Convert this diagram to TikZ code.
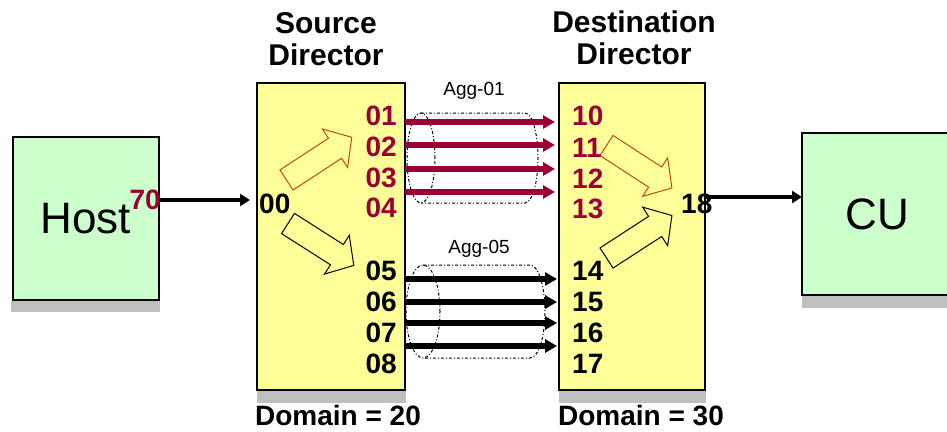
\documentclass[tikz,border=0pt]{standalone}
\usepackage{fontspec}
\setmainfont{Liberation Sans}
\usetikzlibrary{arrows.meta,calc}
\definecolor{portred}{RGB}{153,0,51}
\definecolor{boxyellow}{RGB}{255,255,153}
\definecolor{boxgreen}{RGB}{204,255,204}
\definecolor{shadowgray}{RGB}{191,191,191}
\definecolor{hollowbrown}{RGB}{190,75,10}
\begin{document}
\begin{tikzpicture}[x=1pt,y=-1pt,
  box/.style={draw=black, line width=1.5pt, inner sep=0pt, outer sep=0pt},
  greenbox/.style={box, fill=boxgreen, font=\fontsize{44}{46}\selectfont},
  yellowbox/.style={box, fill=boxyellow},
  shadowfill/.style={fill=shadowgray},
  portlbl/.style={font=\fontsize{28}{30}\selectfont\bfseries, inner sep=0pt},
  srcport/.style={portlbl, anchor=base east},
  dstport/.style={portlbl, anchor=base west},
  titlelbl/.style={font=\fontsize{30}{32}\selectfont\bfseries, inner sep=0pt, align=center, anchor=base},
  domainlbl/.style={font=\fontsize{28}{30}\selectfont\bfseries, inner sep=0pt, anchor=base},
  agglbl/.style={font=\fontsize{19}{21}\selectfont, inner sep=0pt, anchor=base},
  flowred/.style={draw=portred, line width=5.5pt, -{Triangle[length=12pt,width=13pt]}, shorten >=4pt},
  flowblack/.style={draw=black, line width=5.5pt, -{Triangle[length=12pt,width=13pt]}, shorten >=2pt},
  feed/.style={draw=black, line width=3.5pt, -{Triangle[length=10pt,width=12pt]}},
  aggbound/.style={draw=black, line width=1pt, dash pattern=on 3pt off 2pt on 1pt off 2pt},
  hollowarrow/.pic={\draw[pic actions, line width=1pt] (0,-12)--(58,-12)--(58,-23)--(78,0)--(58,23)--(58,12)--(0,12)--cycle;}
]
\useasboundingbox (0,0) rectangle (947,431);
\clip (0,0) rectangle (947,431);

% boxes with shadows
\node[greenbox, minimum width=146pt, minimum height=163pt] (host) at (86,218.5) {Host};
\node[yellowbox, minimum width=148pt, minimum height=307pt] (src) at (331,236.5) {};
\node[yellowbox, minimum width=146pt, minimum height=307pt] (dst) at (632,236.5) {};
\node[greenbox, minimum width=150pt, minimum height=162pt] (cu) at (877,214) {CU};
\fill[shadowfill] ([xshift=-2pt,yshift=-0.75pt]host.south west) rectangle ([xshift=1pt,yshift=-12pt]host.south east);
\fill[shadowfill] ([yshift=-0.75pt]src.south west) rectangle ([xshift=1pt,yshift=-13pt]src.south east);
\fill[shadowfill] ([yshift=-0.75pt]dst.south west) rectangle ([xshift=1pt,yshift=-13pt]dst.south east);
\fill[shadowfill] ([yshift=-0.75pt]cu.south west) rectangle ([xshift=1pt,yshift=-13pt]cu.south east);

% titles
\node[titlelbl] (srctitle) at (326,65) {Source\\Director};
\node[titlelbl] (dsttitle) at (634,64) {Destination\\Director};
\node[domainlbl] (srcdomain) at (338,425) {Domain = 20};
\node[domainlbl] (dstdomain) at (641,425) {Domain = 30};

% lanes
\coordinate (lane70) at (0,200);
\coordinate (lane18) at (0,197);
\coordinate (laneA) at (0,122);
\coordinate (laneB) at (0,145);
\coordinate (laneC) at (0,169);
\coordinate (laneD) at (0,192);
\coordinate (laneE) at (0,279);
\coordinate (laneF) at (0,302);
\coordinate (laneG) at (0,323);
\coordinate (laneH) at (0,346);

% aggregation cylinders
\draw[aggbound] (421,158) ellipse [x radius=14pt, y radius=45pt];
\draw[aggbound] (421,113) -- (525,113) arc[start angle=90, end angle=-90, x radius=13pt, y radius=45pt] -- (421,203);
\draw[aggbound] (423,311.5) ellipse [x radius=17pt, y radius=46.5pt];
\draw[aggbound] (423,265) -- (530,265) arc[start angle=90, end angle=-90, x radius=15pt, y radius=46.5pt] -- (423,358);
\node[agglbl] (agg01) at (474,95) {Agg-01};
\node[agglbl] (agg05) at (479,253) {Agg-05};

% flows
\draw[flowred] (src.east |- laneA) -- (dst.west |- laneA);
\draw[flowred] (src.east |- laneB) -- (dst.west |- laneB);
\draw[flowred] (src.east |- laneC) -- (dst.west |- laneC);
\draw[flowred] (src.east |- laneD) -- (dst.west |- laneD);
\draw[flowblack] (src.east |- laneE) -- (dst.west |- laneE);
\draw[flowblack] (src.east |- laneF) -- (dst.west |- laneF);
\draw[flowblack] (src.east |- laneG) -- (dst.west |- laneG);
\draw[flowblack] (src.east |- laneH) -- (dst.west |- laneH);

% hollow internal arrows
\pic[draw=hollowbrown, rotate=33.2] (srcup) at (286.5,180) {hollowarrow};
\pic[draw=black, rotate=-32.5] (srcdown) at (288,223.5) {hollowarrow};
\pic[draw=hollowbrown, rotate=-33] (dstdown) at (606.5,145.5) {hollowarrow};
\pic[draw=black, rotate=33] (dstup) at (606.5,258) {hollowarrow};

% ports
\node[portlbl, anchor=base east, text=portred] (p70) at (161,209) {70};
\node[portlbl, anchor=base west] (p00) at (259,213) {00};
\node[portlbl, anchor=base west] (p18) at (681,213) {18};
\node[srcport, text=portred] (p01) at (397,125) {01};
\node[srcport, text=portred] (p02) at (397,156) {02};
\node[srcport, text=portred] (p03) at (397,187) {03};
\node[srcport, text=portred] (p04) at (397,217) {04};
\node[srcport] (p05) at (397,280) {05};
\node[srcport] (p06) at (397,311) {06};
\node[srcport] (p07) at (397,342) {07};
\node[srcport] (p08) at (397,373) {08};
\node[dstport, text=portred] (p10) at (572,125) {10};
\node[dstport, text=portred] (p11) at (572,157) {11};
\node[dstport, text=portred] (p12) at (572,188) {12};
\node[dstport, text=portred] (p13) at (572,218) {13};
\node[dstport] (p14) at (572,280) {14};
\node[dstport] (p15) at (572,311) {15};
\node[dstport] (p16) at (572,342) {16};
\node[dstport] (p17) at (572,373) {17};

% feeds
\draw[feed, shorten >=7pt] (host.east |- lane70) -- (src.west |- lane70);
\draw[feed] (dst.east |- lane18) -- (cu.west |- lane18);
\end{tikzpicture}
\end{document}
